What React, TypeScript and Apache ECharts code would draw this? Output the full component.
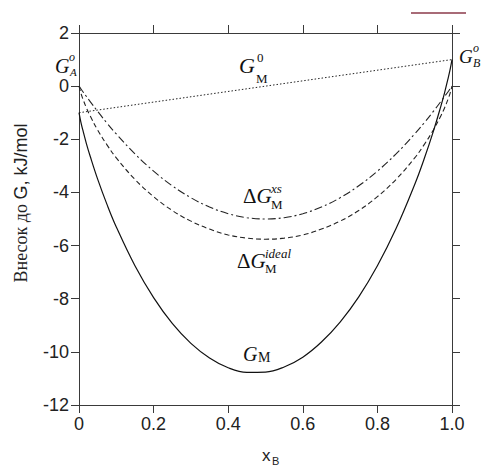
import { useEffect, useRef } from "react";
import * as echarts from "echarts";

// mole fraction of B
const xB = [0, 0.005, 0.01, 0.02, 0.03, 0.05, 0.075, 0.1, 0.15, 0.2, 0.25, 0.3, 0.35, 0.4, 0.45, 0.5, 0.55, 0.6, 0.65, 0.7, 0.75, 0.8, 0.85, 0.9, 0.925, 0.95, 0.97, 0.98, 0.99, 0.995, 1];
// ΔG_M^ideal (dashed)
const gIdeal = [0, -0.26, -0.47, -0.82, -1.12, -1.65, -2.21, -2.70, -3.51, -4.16, -4.68, -5.08, -5.38, -5.60, -5.72, -5.76, -5.72, -5.60, -5.38, -5.08, -4.68, -4.16, -3.51, -2.70, -2.21, -1.65, -1.12, -0.82, -0.47, -0.26, 0];
// ΔG_M^xs (dash-dot)
const gXs = [0, -0.10, -0.20, -0.39, -0.58, -0.95, -1.39, -1.80, -2.55, -3.20, -3.75, -4.20, -4.55, -4.80, -4.95, -5.00, -4.95, -4.80, -4.55, -4.20, -3.75, -3.20, -2.55, -1.80, -1.39, -0.95, -0.58, -0.39, -0.20, -0.10, 0];
// G_M (solid)
const gM = [-1.00, -1.35, -1.64, -2.17, -2.64, -3.50, -4.45, -5.30, -6.76, -7.96, -8.93, -9.68, -10.23, -10.60, -10.77, -10.76, -10.57, -10.20, -9.63, -8.88, -7.93, -6.76, -5.36, -3.70, -2.75, -1.70, -0.76, -0.25, 0.32, 0.63, 1.00];
// G_M^0 (dotted straight line)
const g0X = [0, 1];
const g0Y = [-1, 1];

const xTickLabels: Record<string, string> = { "0": "0", "0.2": "0.2", "0.4": "0.4", "0.6": "0.6", "0.8": "0.8", "1": "1.0" };

const SERIF = '"Liberation Serif", "Times New Roman", serif';
const SANS = '"Liberation Sans", Arial, sans-serif';
const AX = "#3a3a3a";

function txt(x: number, y: number, text: string, font: string, extra: any = {}) {
  return {
    type: "text",
    x,
    y,
    style: { text, font, fill: "#111", align: "left", verticalAlign: "middle", ...extra },
  };
}

function deltaG(x: number, y: number) {
  return {
    type: "text",
    x,
    y,
    style: {
      text: "{d|Δ}{g|G}",
      align: "left",
      verticalAlign: "middle",
      rich: {
        d: { font: `21px ${SERIF}`, fill: "#111" },
        g: { font: `italic 21px ${SERIF}`, fill: "#111" },
      },
    },
  };
}

export default function App() {
  const ref = useRef<HTMLDivElement>(null);
  useEffect(() => {
    const chart = echarts.init(ref.current!, null, { renderer: "svg" });
    const pairs = (ys: number[]) => xB.map((x, i) => [x, ys[i]]);
    const axisCommon = {
      type: "value",
      axisLine: { show: true, onZero: false, lineStyle: { color: AX, width: 1 } },
      axisTick: { show: true, inside: false, length: 8, lineStyle: { color: AX, width: 1 } },
      splitLine: { show: false },
    };
    chart.setOption({
      animation: false,
      backgroundColor: "#fff",
      grid: { left: 79, right: 32, top: 33, bottom: 61, containLabel: false },
      xAxis: [
        {
          ...axisCommon,
          position: "bottom",
          min: 0,
          max: 1,
          interval: 0.2,
          axisLabel: {
            show: true,
            margin: 10,
            color: "#222",
            fontFamily: SANS,
            fontSize: 18,
            formatter: (v: number) => xTickLabels[String(Math.round(v * 10) / 10)] ?? String(v),
          },
        },
        { ...axisCommon, position: "top", min: 0, max: 1, interval: 0.2, axisLabel: { show: false } },
      ],
      yAxis: [
        {
          ...axisCommon,
          position: "left",
          min: -12,
          max: 2,
          interval: 2,
          axisLabel: { show: true, margin: 10, color: "#222", fontFamily: SANS, fontSize: 18 },
        },
        { ...axisCommon, position: "right", min: -12, max: 2, interval: 2, axisLabel: { show: false } },
      ],
      series: [
        {
          type: "line",
          data: g0X.map((x, i) => [x, g0Y[i]]),
          showSymbol: false,
          lineStyle: { color: "#222", width: 1, type: [1.5, 2] },
        },
        {
          type: "line",
          data: pairs(gXs),
          showSymbol: false,
          smooth: 0.4,
          lineStyle: { color: "#222", width: 1.1, type: [8, 3, 2, 3] },
        },
        {
          type: "line",
          data: pairs(gIdeal),
          showSymbol: false,
          smooth: 0.4,
          lineStyle: { color: "#222", width: 1.1, type: [5, 3] },
        },
        {
          type: "line",
          data: pairs(gM),
          showSymbol: false,
          smooth: 0.4,
          lineStyle: { color: "#111", width: 1.2, type: "solid" },
        },
      ],
      graphic: [
        { type: "line", shape: { x1: 411, y1: 13, x2: 466, y2: 13 }, style: { stroke: "#8b3a4a", lineWidth: 1.5 } },
        // G_A^o
        txt(55, 66, "G", `italic 20px ${SERIF}`),
        txt(69, 57, "o", `italic 12px ${SERIF}`),
        txt(70, 72, "A", `italic 11px ${SERIF}`),
        // G_B^o
        txt(459, 56, "G", `italic 19px ${SERIF}`),
        txt(473, 48, "o", `italic 12px ${SERIF}`),
        txt(473, 63, "B", `italic 12px ${SERIF}`),
        // G_M^0
        txt(239, 65, "G", `italic 22px ${SERIF}`),
        txt(257, 57, "0", `13px ${SERIF}`),
        txt(256, 78, "M", `13px ${SERIF}`),
        // ΔG_M^xs
        deltaG(243, 196),
        txt(271, 188, "xs", `italic 13px ${SERIF}`),
        txt(271, 204, "M", `13px ${SERIF}`),
        // ΔG_M^ideal
        deltaG(237, 261),
        txt(265, 253, "ideal", `italic 13px ${SERIF}`),
        txt(265, 268, "M", `13px ${SERIF}`),
        // G_M
        txt(243, 354, "G", `italic 20px ${SERIF}`),
        txt(258, 357, "M", `14px ${SERIF}`),
        // y axis title
        {
          type: "text",
          x: 21,
          y: 203,
          rotation: Math.PI / 2,
          style: {
            text: "{s|Внесок до }{a|G, kJ/mol}",
            align: "center",
            verticalAlign: "middle",
            rich: {
              s: { font: `18px ${SERIF}`, fill: "#222" },
              a: { font: `18px ${SANS}`, fill: "#222" },
            },
          },
        },
        // x axis title
        txt(262, 455, "x", `17px ${SANS}`, { fill: "#222" }),
        txt(272, 461, "B", `11px ${SANS}`, { fill: "#222" }),
      ],
    });
    return () => chart.dispose();
  }, []);
  return <div ref={ref} style={{ position: "fixed", left: 0, top: 0, width: 484, height: 466 }} />;
}
